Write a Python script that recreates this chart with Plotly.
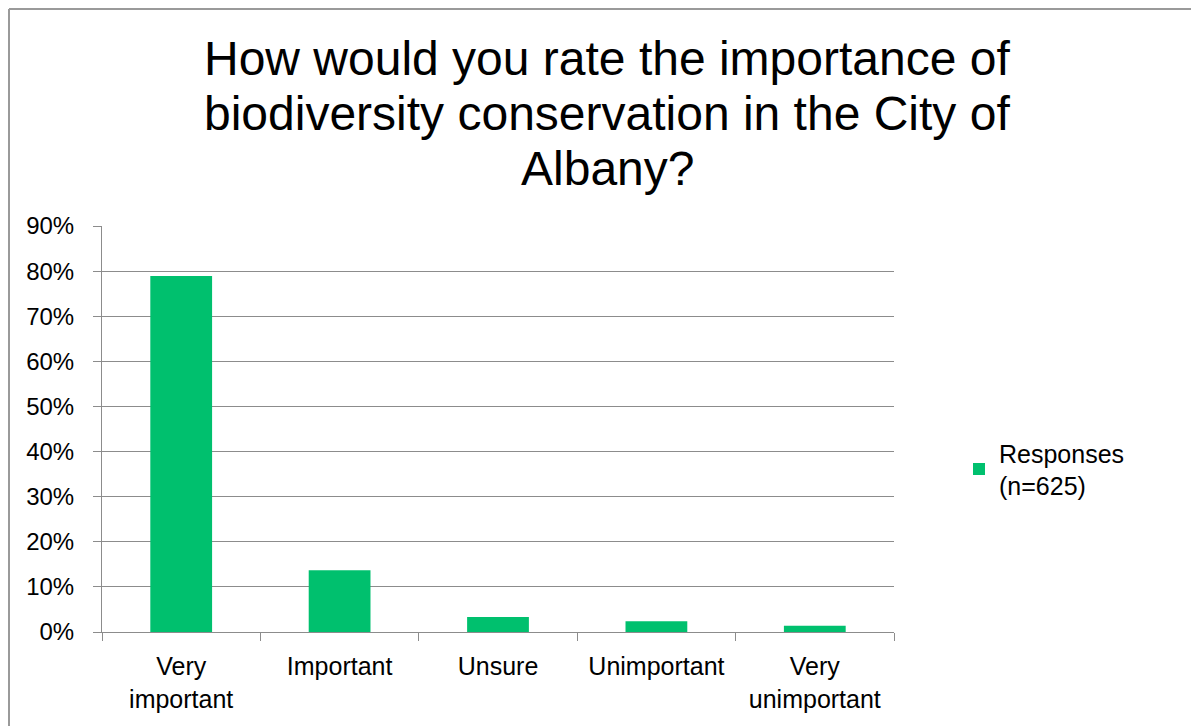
import plotly.graph_objects as go

categories = ["Very<br>important", "Important", "Unsure", "Unimportant", "Very<br>unimportant"]
values = [0.789, 0.137, 0.033, 0.024, 0.014]
series_name = "Responses<br>(n=625)"
title_lines = ["How would you rate the importance of",
               "biodiversity conservation in the City of",
               "Albany?"]
y_ticks = [0, 0.1, 0.2, 0.3, 0.4, 0.5, 0.6, 0.7, 0.8, 0.9]

# page offset (body margin) is 8px
OFF = 8
W, H = 1199 - OFF, 726 - OFF
L, R, T, B = 102, 894, 226, 632   # plot area in page coordinates
pw, ph = R - L, B - T

def px(x):
    return (x - L) / pw

def py(y):
    return (B - y) / ph

font = "Liberation Sans, Arial, sans-serif"

fig = go.Figure()
fig.add_trace(go.Bar(
    x=categories, y=values, name=series_name,
    marker=dict(color="#00C06E", line=dict(width=0)),
    width=0.39, showlegend=True,
))

fig.update_layout(
    width=W, height=H,
    margin=dict(l=L - OFF, r=W + OFF - R, t=T - OFF, b=H + OFF - B, autoexpand=False),
    paper_bgcolor="white", plot_bgcolor="white",
    font=dict(family=font, color="black", size=24),
    showlegend=True,
    legend=dict(x=px(959), y=py(469), xanchor="left", yanchor="middle",
                font=dict(size=25, family=font), itemwidth=30,
                bgcolor="rgba(0,0,0,0)"),
)

for i, (line, yc) in enumerate(zip(title_lines, [58, 113, 168])):
    fig.add_annotation(text=line, xref="paper", yref="paper",
                       x=px(607), y=py(yc), xanchor="center", yanchor="middle",
                       showarrow=False, font=dict(size=48, family=font, color="black"))

fig.update_yaxes(
    range=[0, 0.9], tickvals=y_ticks, tickformat=".0%",
    showgrid=True, gridcolor="#8c8c8c", gridwidth=1,
    showline=True, linecolor="#8c8c8c", linewidth=1,
    ticks="outside", ticklen=8, tickcolor="#8c8c8c",
    tickfont=dict(size=24, family=font), zeroline=False,
    ticklabelstandoff=14,
)
fig.update_xaxes(
    showline=True, linecolor="#8c8c8c", linewidth=1,
    ticks="outside", ticklen=8, tickcolor="#8c8c8c", tickson="boundaries",
    tickfont=dict(size=25, family=font), showgrid=False,
    ticklabelstandoff=12,
)

# outer chart frame (clipped by the image edges)
fig.add_shape(type="line", xref="paper", yref="paper",
              x0=px(9), x1=px(1205), y0=py(9), y1=py(9),
              line=dict(color="#9a9a9a", width=2))
fig.add_shape(type="line", xref="paper", yref="paper",
              x0=px(9), x1=px(9), y0=py(9), y1=py(735),
              line=dict(color="#9a9a9a", width=2))

fig.write_html("out.html")
